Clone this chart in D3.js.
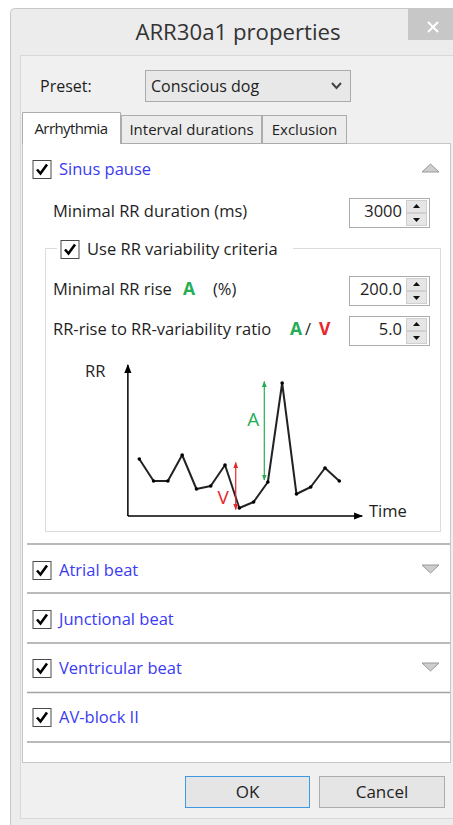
<!DOCTYPE html>
<html>
<head>
<meta charset="utf-8">
<script src="https://cdn.jsdelivr.net/npm/d3@7"></script>
<style>
html, body { margin: 0; padding: 0; background: #fff; }
svg { display: block; }
text { font-family: "Open Sans", "Noto Sans", sans-serif; }
</style>
</head>
<body>
<script>
// RR interval sketch (arbitrary units)
var rrTime = [1, 2, 3, 4, 5, 6, 7, 8, 9, 10, 11, 12, 13, 14, 15];
var rrValues = [57, 35, 35, 61, 27, 30, 51, 8, 14, 34, 133, 22, 29, 48, 35];

// the A (rise) and V (variability) markers: time, from, to
var riseArrow = [9.75, 36, 134.5];
var varArrow = [7.75, 53.5, 6.5];

var dialogTitle = "ARR30a1 properties";
var presetName = "Conscious dog";
var tabLabels = ["Arrhythmia", "Interval durations", "Exclusion"];
var sectionNames = ["Sinus pause", "Atrial beat", "Junctional beat", "Ventricular beat", "AV-block II"];
var sectionArrows = ["up", "down", "none", "down", "none"];
var fieldLabels = ["Minimal RR duration (ms)", "Minimal RR rise", "RR-rise to RR-variability ratio"];
var fieldValues = ["3000", "200.0", "5.0"];
var buttonLabels = ["OK", "Cancel"];

var W = 453, H = 825;
var fs = 16.5;
var textColor = "#1e1e1e";
var linkColor = "#3b3bf4";
var green = "#25ad55";
var red = "#e8262b";

var svg = d3.select("body").append("svg")
    .attr("width", W)
    .attr("height", H);

// ---- window frame ----
svg.append("rect")
    .attr("x", 10.5).attr("y", 8.5)
    .attr("width", 470).attr("height", 840)
    .attr("rx", 4)
    .attr("fill", "#ececec")
    .attr("stroke", "#c8c8c8");

svg.append("rect")
    .attr("x", 20.5).attr("y", 55.5)
    .attr("width", 450).attr("height", 763)
    .attr("fill", "#f0f0f0")
    .attr("stroke", "#d8d8d8");

// close button
svg.append("rect")
    .attr("x", 408).attr("y", 9)
    .attr("width", 50).attr("height", 31)
    .attr("fill", "#c7c7c7");
svg.append("path")
    .attr("d", "M428,22L438,32M438,22L428,32")
    .attr("stroke", "#fff")
    .attr("stroke-width", 2);

svg.append("text")
    .attr("x", 238).attr("y", 40)
    .attr("text-anchor", "middle")
    .attr("font-size", 22.2)
    .attr("fill", "#333")
    .text(dialogTitle);

// ---- preset row ----
svg.append("text")
    .attr("x", 40).attr("y", 92)
    .attr("font-size", 16)
    .attr("fill", textColor)
    .text("Preset:");

svg.append("rect")
    .attr("x", 145.5).attr("y", 70.5)
    .attr("width", 205).attr("height", 31)
    .attr("fill", "#e8e8e8")
    .attr("stroke", "#acacac");
svg.append("text")
    .attr("x", 151).attr("y", 92)
    .attr("font-size", 16)
    .attr("fill", textColor)
    .text(presetName);
svg.append("path")
    .attr("d", "M332,83L336.5,88L341,83")
    .attr("fill", "none")
    .attr("stroke", "#444")
    .attr("stroke-width", 2);

// ---- tabs and panel ----
svg.append("rect")
    .attr("x", 22.5).attr("y", 143.5)
    .attr("width", 428).attr("height", 619)
    .attr("fill", "#fff")
    .attr("stroke", "#c6c6c6");

var tabs = [
  {x: 121.5, w: 140, top: 115.5},
  {x: 262.5, w: 84, top: 115.5}
];
tabs.forEach(function(t, i) {
  svg.append("rect")
      .attr("x", t.x).attr("y", t.top)
      .attr("width", t.w).attr("height", 143.5 - t.top)
      .attr("fill", "#ececec")
      .attr("stroke", "#acacac");
  svg.append("text")
      .attr("x", t.x + t.w / 2).attr("y", 135)
      .attr("text-anchor", "middle")
      .attr("font-size", 15)
      .attr("fill", textColor)
      .text(tabLabels[i + 1]);
});
svg.append("path")
    .attr("d", "M22.5,144V112.5H120.5V144")
    .attr("fill", "#fff")
    .attr("stroke", "#acacac");
svg.append("text")
    .attr("x", 71).attr("y", 134)
    .attr("text-anchor", "middle")
    .attr("font-size", 15)
    .attr("letter-spacing", -0.6)
    .attr("fill", textColor)
    .text(tabLabels[0]);

// ---- helpers ----
function checkbox(x0, y0) {
  svg.append("rect")
      .attr("x", x0 + 0.5).attr("y", y0 + 0.5)
      .attr("width", 18).attr("height", 18)
      .attr("fill", "#fff")
      .attr("stroke", "#4a4a4a");
  svg.append("path")
      .attr("d", "M" + (x0 + 4.5) + "," + (y0 + 9.5) + "L" + (x0 + 8) + "," + (y0 + 13.5) + "L" + (x0 + 14.5) + "," + (y0 + 4.5))
      .attr("fill", "none")
      .attr("stroke", "#000")
      .attr("stroke-width", 2.6);
}

function triangle(cx, cy, dir) {
  var d = dir == "up"
    ? "M" + (cx - 8.5) + "," + (cy + 4) + "L" + (cx + 8.5) + "," + (cy + 4) + "L" + cx + "," + (cy - 4) + "Z"
    : "M" + (cx - 8.5) + "," + (cy - 4) + "L" + (cx + 8.5) + "," + (cy - 4) + "L" + cx + "," + (cy + 4) + "Z";
  svg.append("path")
      .attr("d", d)
      .attr("fill", "#cdcdcd")
      .attr("stroke", "#9a9a9a");
}

function spinbox(y0, value) {
  var x0 = 349, w = 80, h = 29;
  svg.append("rect")
      .attr("x", x0 + 0.5).attr("y", y0 + 0.5)
      .attr("width", w).attr("height", h)
      .attr("fill", "#fff")
      .attr("stroke", "#acacac");
  svg.append("text")
      .attr("x", x0 + 53).attr("y", y0 + 19)
      .attr("text-anchor", "end")
      .attr("font-size", fs)
      .attr("fill", textColor)
      .text(value);
  [0, 1].forEach(function(k) {
    svg.append("rect")
        .attr("x", x0 + 57.5).attr("y", y0 + 2.5 + k * 13)
        .attr("width", 20).attr("height", 12)
        .attr("fill", "#e6e6e6")
        .attr("stroke", "#cfcfcf");
  });
  var cx = x0 + 67.5;
  svg.append("path")
      .attr("d", "M" + (cx - 3.5) + "," + (y0 + 10) + "L" + (cx + 3.5) + "," + (y0 + 10) + "L" + cx + "," + (y0 + 6) + "Z")
      .attr("fill", "#111");
  svg.append("path")
      .attr("d", "M" + (cx - 3.5) + "," + (y0 + 20) + "L" + (cx + 3.5) + "," + (y0 + 20) + "L" + cx + "," + (y0 + 24) + "Z")
      .attr("fill", "#111");
}

// ---- sections ----
var sectionTop = [160, 561, 610, 659, 708];
var separators = [544, 593, 643, 692.5, 742];

sectionNames.forEach(function(name, i) {
  var y0 = sectionTop[i];
  checkbox(32.5, y0);
  svg.append("text")
      .attr("x", 59).attr("y", y0 + 14.5)
      .attr("font-size", fs)
      .attr("fill", linkColor)
      .text(name);
  if (sectionArrows[i] != "none") triangle(430.5, y0 + 8, sectionArrows[i]);
});

separators.forEach(function(s) {
  svg.append("line")
      .attr("x1", 27).attr("x2", 450)
      .attr("y1", s).attr("y2", s)
      .attr("stroke", "#a3a3a3")
      .attr("stroke-width", 1.5);
});

// sinus pause fields
svg.append("text")
    .attr("x", 53).attr("y", 217)
    .attr("font-size", fs)
    .attr("fill", textColor)
    .text(fieldLabels[0]);
spinbox(198, fieldValues[0]);

// group box
svg.append("rect")
    .attr("x", 45.5).attr("y", 248.5)
    .attr("width", 395).attr("height", 283)
    .attr("fill", "none")
    .attr("stroke", "#dcdcdc");
svg.append("rect")
    .attr("x", 57).attr("y", 240)
    .attr("width", 236).attr("height", 18)
    .attr("fill", "#fff");
checkbox(60.5, 240);
svg.append("text")
    .attr("x", 87).attr("y", 255)
    .attr("font-size", fs)
    .attr("fill", textColor)
    .text("Use RR variability criteria");

var row1 = svg.append("text")
    .attr("y", 295)
    .attr("font-size", fs)
    .attr("fill", textColor);
row1.append("tspan").attr("x", 53).text(fieldLabels[1]);
row1.append("tspan").attr("x", 183).attr("fill", green).attr("font-weight", "bold").attr("font-size", 17.5).text("A");
row1.append("tspan").attr("x", 213).text("(%)");
spinbox(276, fieldValues[1]);

var row2 = svg.append("text")
    .attr("y", 335)
    .attr("font-size", fs)
    .attr("fill", textColor);
row2.append("tspan").attr("x", 53).text(fieldLabels[2]);
row2.append("tspan").attr("x", 290).attr("fill", green).attr("font-weight", "bold").attr("font-size", 17.5).text("A");
row2.append("tspan").attr("x", 305).text("/");
row2.append("tspan").attr("x", 319).attr("fill", red).attr("font-weight", "bold").attr("font-size", 17.5).text("V");
spinbox(316, fieldValues[2]);

// ---- RR sketch ----
var x = d3.scaleLinear().domain([1, 15]).range([139.3, 339.3]);
var y = d3.scaleLinear().domain([0, 150]).range([516, 366]);

var defs = svg.append("defs");
function marker(id, color, size) {
  defs.append("marker")
      .attr("id", id)
      .attr("viewBox", "0 0 10 10")
      .attr("refX", 9).attr("refY", 5)
      .attr("markerUnits", "userSpaceOnUse")
      .attr("markerWidth", size).attr("markerHeight", size)
      .attr("orient", "auto-start-reverse")
    .append("path")
      .attr("d", "M0,1L10,5L0,9Z")
      .attr("fill", color);
}
marker("ax", "#000", 9);
marker("ga", green, 6);
marker("ra", red, 6);

var chart = svg.append("g").attr("class", "chart");

// axes with arrow heads
chart.append("line")
    .attr("x1", x(0.2)).attr("y1", y(0))
    .attr("x2", x(0.2)).attr("y2", y(151))
    .attr("stroke", "#000").attr("stroke-width", 1.5)
    .attr("marker-end", "url(#ax)");
chart.append("line")
    .attr("x1", x(0.2)).attr("y1", y(0))
    .attr("x2", x(16.6)).attr("y2", y(0))
    .attr("stroke", "#000").attr("stroke-width", 1.5)
    .attr("marker-end", "url(#ax)");

chart.append("text")
    .attr("x", 85).attr("y", 377)
    .attr("font-family", "'Liberation Sans', Arial, sans-serif")
    .attr("font-size", 16.5)
    .attr("fill", "#222")
    .text("RR");
chart.append("text")
    .attr("x", 369).attr("y", 517)
    .attr("font-family", "'Liberation Sans', Arial, sans-serif")
    .attr("font-size", 16.5)
    .attr("fill", "#222")
    .text("Time");

var pts = rrTime.map(function(t, i) { return {t: t, v: rrValues[i]}; });
var line = d3.line()
    .x(function(d) { return x(d.t); })
    .y(function(d) { return y(d.v); });

chart.append("path")
    .datum(pts)
    .attr("d", line)
    .attr("fill", "none")
    .attr("stroke", "#222")
    .attr("stroke-width", 2)
    .attr("stroke-linejoin", "round");

chart.selectAll(".dot")
    .data(pts)
  .enter().append("circle")
    .attr("class", "dot")
    .attr("cx", function(d) { return x(d.t); })
    .attr("cy", function(d) { return y(d.v); })
    .attr("r", 1.8)
    .attr("fill", "#000");

// A and V double arrows
chart.append("line")
    .attr("x1", x(riseArrow[0])).attr("x2", x(riseArrow[0]))
    .attr("y1", y(riseArrow[1])).attr("y2", y(riseArrow[2]))
    .attr("stroke", green).attr("stroke-width", 1.2)
    .attr("marker-start", "url(#ga)").attr("marker-end", "url(#ga)");
chart.append("text")
    .attr("x", x(riseArrow[0]) - 11).attr("y", 426)
    .attr("text-anchor", "middle")
    .attr("font-family", "'Liberation Sans', Arial, sans-serif")
    .attr("font-size", 19)
    .attr("fill", green)
    .text("A");

chart.append("line")
    .attr("x1", x(varArrow[0])).attr("x2", x(varArrow[0]))
    .attr("y1", y(varArrow[1])).attr("y2", y(varArrow[2]))
    .attr("stroke", red).attr("stroke-width", 1.2)
    .attr("marker-start", "url(#ra)").attr("marker-end", "url(#ra)");
chart.append("text")
    .attr("x", x(varArrow[0]) - 12.5).attr("y", 503.5)
    .attr("text-anchor", "middle")
    .attr("font-family", "'Liberation Sans', Arial, sans-serif")
    .attr("font-size", 19)
    .attr("fill", red)
    .text("V");

// ---- buttons ----
var buttons = [
  {x: 185.5, w: 124, stroke: "#3d98e5"},
  {x: 319.5, w: 125, stroke: "#adadad"}
];
buttons.forEach(function(b, i) {
  svg.append("rect")
      .attr("x", b.x).attr("y", 776.5)
      .attr("width", b.w).attr("height", 31)
      .attr("fill", "#e5e5e5")
      .attr("stroke", b.stroke);
  svg.append("text")
      .attr("x", b.x + b.w / 2).attr("y", 798)
      .attr("text-anchor", "middle")
      .attr("font-size", 17)
      .attr("fill", textColor)
      .text(buttonLabels[i]);
});
</script>
</body>
</html>
